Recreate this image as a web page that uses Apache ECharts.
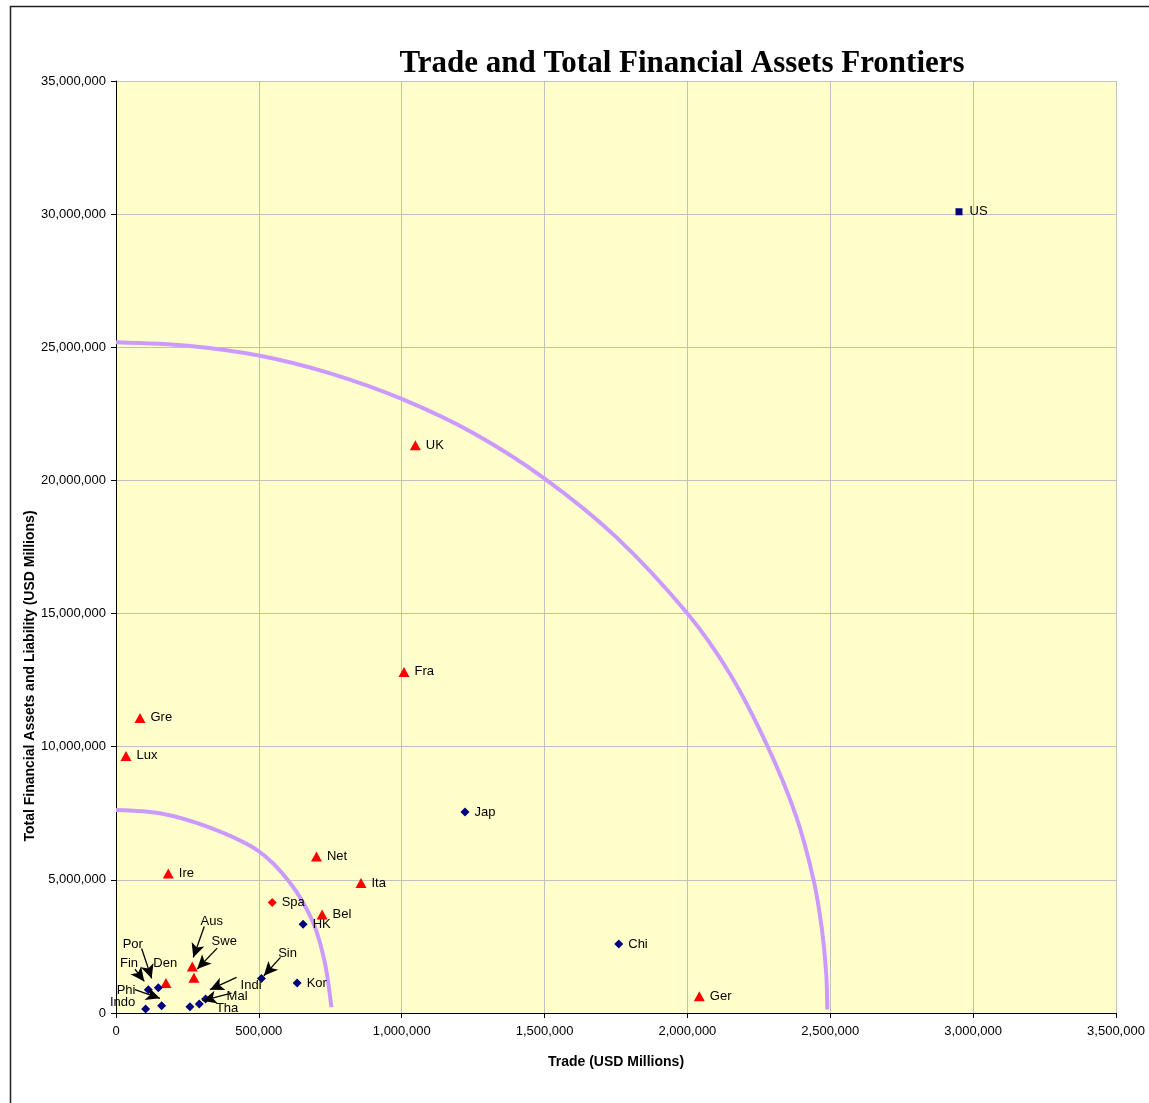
<!DOCTYPE html>
<html>
<head>
<meta charset="utf-8">
<script src="https://cdn.jsdelivr.net/npm/echarts@6/dist/echarts.min.js"></script>
<style>
  html, body { margin: 0; padding: 0; background: #fff; }
  #chart { width: 1149px; height: 1103px; }
</style>
</head>
<body>
<div id="chart"></div>
<script>
// Europe (red triangles)
const euroNames = ['UK', 'Fra', 'Gre', 'Lux', 'Net', 'Ita', 'Ire', 'Bel', 'Ger', '', '', ''];
const euroTrade = [1047800, 1008000, 84000, 35000, 701600, 857500, 183000, 721400, 2041500, 267000, 272700, 174800];
const euroAssets = [21320000, 12810000, 11082000, 9655000, 5875000, 4884000, 5237000, 3700000, 630000, 1750000, 1325000, 1125000];

// Spain (red diamond)
const spaNames = ['Spa'];
const spaTrade = [546600];
const spaAssets = [4150000];

// Asia (navy diamonds)
const asiaNames = ['Jap', 'HK', 'Chi', 'Kor', '', '', '', '', '', '', '', ''];
const asiaTrade = [1221500, 655000, 1759600, 634000, 509000, 113000, 148000, 103700, 159700, 258700, 291400, 313500];
const asiaAssets = [7551000, 3337000, 2590000, 1125000, 1300000, 875000, 950000, 150000, 275000, 237500, 337500, 525000];

// US (navy square)
const usNames = ['US'];
const usTrade = [2950500];
const usAssets = [30090000];

// frontier curves
const outerTrade = [0, 250000, 500000, 750000, 1000000, 1250000, 1500000, 1750000, 2000000, 2150000, 2281000, 2380000, 2441500, 2470000, 2486000, 2489500];
const outerAssets = [25190000, 25060000, 24690000, 24020000, 23060000, 21780000, 20070000, 17880000, 15000000, 12710000, 10000000, 7400000, 5000000, 3190000, 1430000, 130000];
const innerTrade = [0, 153800, 328700, 497700, 608400, 690000, 730800, 754000];
const innerAssets = [7625000, 7500000, 6960000, 6090000, 4900000, 3400000, 1900000, 212000];

// callout labels in the crowded corner
const calloutNames = ['Por', 'Fin', 'Den', 'Phi', 'Indo', 'Aus', 'Swe', 'Sin', 'Indi', 'Mal', 'Tha'];
const calloutTrade = [23300, 14000, 130500, 2300, -21000, 296000, 334500, 567600, 436000, 387000, 349600];
const calloutAssets = [2587000, 1862000, 1862000, 862000, 400000, 3437000, 2675000, 2250000, 1050000, 612000, 187000];

// arrows: from -> to, as [trade, assets]
const arrowFrom = [[89700, 2425000], [66400, 1650000], [66400, 875000], [308900, 3250000], [354300, 2437000], [575800, 2087000], [421900, 1337000], [404400, 750000]];
const arrowTo = [[124700, 1300000], [99000, 1187000], [153800, 550000], [270400, 2087000], [284400, 1650000], [517500, 1400000], [328700, 875000], [303000, 462000]];

const xTicks = [0, 500000, 1000000, 1500000, 2000000, 2500000, 3000000, 3500000];
const yTicks = [0, 5000000, 10000000, 15000000, 20000000, 25000000, 30000000, 35000000];

const zip = (xs, ys, names) => xs.map((x, i) => names ? [x, ys[i], names[i]] : [x, ys[i]]);
const fmt = v => Math.round(v).toLocaleString('en-US');
const sans = 'Liberation Sans, Arial, sans-serif';

const pointLabel = {
    show: true,
    position: 'right',
    distance: 5,
    color: '#000',
    fontFamily: sans,
    fontSize: 13,
    formatter: p => p.value[2],
};

const chart = echarts.init(document.getElementById('chart'));

chart.setOption({
    animation: false,
    backgroundColor: '#fff',
    graphic: [
        {
            type: 'rect',
            shape: { x: 10.5, y: 6.5, width: 1300, height: 1300 },
            style: { fill: 'none', stroke: '#222', lineWidth: 1.5 },
            silent: true,
        },
        {
            type: 'text',
            x: 30,
            y: 676,
            rotation: Math.PI / 2,
            style: {
                text: 'Total Financial Assets and Liability (USD Millions)',
                fontFamily: sans,
                fontWeight: 'bold',
                fontSize: 14,
                fill: '#000',
                align: 'center',
                verticalAlign: 'middle',
            },
            silent: true,
        },
    ],
    title: {
        text: 'Trade and Total Financial Assets Frontiers',
        left: 677,
        textAlign: 'center',
        top: 43,
        textStyle: {
            fontFamily: 'Liberation Serif, Times New Roman, serif',
            fontWeight: 'bold',
            fontSize: 31,
            color: '#000',
        },
    },
    grid: {
        left: 116,
        top: 81,
        width: 1000,
        height: 932,
        show: true,
        backgroundColor: '#FFFFCC',
        borderWidth: 0,
    },
    xAxis: {
        type: 'value',
        min: xTicks[0],
        max: xTicks[xTicks.length - 1],
        interval: 500000,
        name: 'Trade (USD Millions)',
        nameLocation: 'middle',
        nameGap: 42,
        nameTextStyle: { fontFamily: sans, fontWeight: 'bold', fontSize: 14, color: '#000' },
        axisLine: { lineStyle: { color: '#000', width: 1 } },
        axisTick: { show: true, length: 5, lineStyle: { color: '#000' } },
        axisLabel: { margin: 12, color: '#000', fontFamily: sans, fontSize: 13, formatter: fmt },
        splitLine: { show: true, lineStyle: { color: '#C0C0C0', width: 1 } },
    },
    yAxis: {
        type: 'value',
        min: yTicks[0],
        max: yTicks[yTicks.length - 1],
        interval: 5000000,
        axisLine: { show: true, lineStyle: { color: '#000', width: 1 } },
        axisTick: { show: true, length: 5, lineStyle: { color: '#000' } },
        axisLabel: { margin: 10, color: '#000', fontFamily: sans, fontSize: 13, formatter: fmt },
        splitLine: { show: true, lineStyle: { color: '#C0C0C0', width: 1 } },
    },
    series: [
        {
            name: 'Outer frontier',
            type: 'line',
            data: zip(outerTrade, outerAssets),
            smooth: 0.3,
            showSymbol: false,
            lineStyle: { color: '#CC99FF', width: 4 },
            z: 2,
        },
        {
            name: 'Inner frontier',
            type: 'line',
            data: zip(innerTrade, innerAssets),
            smooth: 0.3,
            showSymbol: false,
            lineStyle: { color: '#CC99FF', width: 4 },
            z: 2,
        },
        {
            name: 'Europe',
            type: 'scatter',
            symbol: 'triangle',
            symbolSize: [11, 10],
            itemStyle: { color: '#FF0000', opacity: 1 },
            data: zip(euroTrade, euroAssets, euroNames),
            label: pointLabel,
            z: 4,
        },
        {
            name: 'Spain',
            type: 'scatter',
            symbol: 'diamond',
            symbolSize: 9,
            itemStyle: { color: '#FF0000', opacity: 1 },
            data: zip(spaTrade, spaAssets, spaNames),
            label: pointLabel,
            z: 4,
        },
        {
            name: 'Asia',
            type: 'scatter',
            symbol: 'diamond',
            symbolSize: 9,
            itemStyle: { color: '#000080', opacity: 1 },
            data: zip(asiaTrade, asiaAssets, asiaNames),
            label: pointLabel,
            z: 4,
        },
        {
            name: 'US',
            type: 'scatter',
            symbol: 'rect',
            symbolSize: 7,
            itemStyle: { color: '#000080', opacity: 1 },
            data: zip(usTrade, usAssets, usNames),
            label: Object.assign({}, pointLabel, { distance: 7 }),
            z: 4,
        },
        {
            name: 'Callouts',
            type: 'scatter',
            symbolSize: 0,
            clip: false,
            itemStyle: { opacity: 1 },
            data: zip(calloutTrade, calloutAssets, calloutNames),
            label: Object.assign({}, pointLabel, { distance: 0 }),
            markLine: {
                silent: true,
                symbol: ['none', 'arrow'],
                symbolSize: [10, 14],
                label: { show: false },
                lineStyle: { color: '#000', width: 1.3, type: 'solid', opacity: 1 },
                data: arrowFrom.map((f, i) => [{ coord: f }, { coord: arrowTo[i] }]),
            },
            z: 5,
        },
    ],
});
</script>
</body>
</html>
